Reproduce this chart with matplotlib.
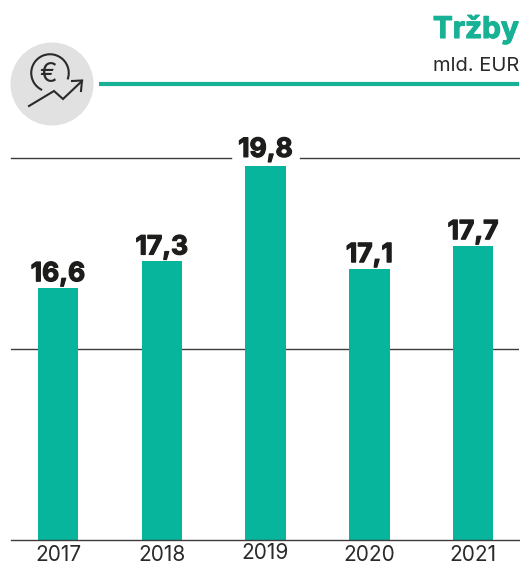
import matplotlib
matplotlib.use('Agg')
import matplotlib.pyplot as plt
import matplotlib.patheffects as pe
from matplotlib.patches import Arc, Circle

years = ['2017', '2018', '2019', '2020', '2021']
values = [16.6, 17.3, 19.8, 17.1, 17.7]
labels = ['16,6', '17,3', '19,8', '17,1', '17,7']
# baseline of the axis is 10, not 0
grid_values = [15]
top_value = 20

green = '#06B59C'
line_green = '#17B195'
dark = '#2B2A29'
rule = '#3c3c3c'
W, H = 520, 565

plt.rcParams['font.family'] = ['Inter', 'DejaVu Sans']

fig = plt.figure(figsize=(W / 100, H / 100), dpi=100)
ax = fig.add_axes([11 / W, (H - 540) / H, 508 / W, 382 / H])

x = list(range(len(years)))
ax.bar(x, values, width=0.39, color=green, zorder=3)
ax.set_xlim(-0.453, 4.443)
ax.set_ylim(10, top_value)

for v in grid_values:
    ax.axhline(v, color=rule, lw=1, zorder=1)
# top line has a gap for the 2019 label
ax.axhline(top_value, xmax=220 / 508, color=rule, lw=1, clip_on=False)
ax.axhline(top_value, xmin=289 / 508, color=rule, lw=1, clip_on=False)

for xi, v, lab in zip(x, values, labels):
    off = 2 if v > 19 else 0.5
    t = ax.annotate(lab, (xi, v), xytext=(0, off), textcoords='offset points', ha='center',
                    va='bottom', fontsize=19, fontweight='bold', color='#1d1d1b', clip_on=False)
    t.set_path_effects([pe.withStroke(linewidth=0.9, foreground='#1d1d1b')])

for s in ['top', 'left', 'right']:
    ax.spines[s].set_visible(False)
ax.spines['bottom'].set_color(rule)
ax.spines['bottom'].set_linewidth(1)
ax.spines['bottom'].set_zorder(4)
ax.set_yticks([])
ax.set_xticks(x)
ax.set_xticklabels(years, fontsize=15, color=dark)
ax.tick_params(axis='x', length=0, pad=3.5)
ax.xaxis.get_major_ticks()[2].set_pad(2.5)

# overlay in pixel coordinates for the header and the icon
ov = fig.add_axes([0, 0, 1, 1], zorder=5)
ov.set_xlim(0, W)
ov.set_ylim(H, 0)
ov.axis('off')

title = ov.text(519, 38, 'Tržby', ha='right', va='baseline', fontsize=21.5, fontweight='bold', color=line_green)
title.set_path_effects([pe.withStroke(linewidth=0.8, foreground=line_green)])
ov.text(519, 71, 'mld. EUR', ha='right', va='baseline', fontsize=14.5, color=dark)
ov.plot([99, 519], [84, 84], color=line_green, lw=3, solid_capstyle='butt')

ov.add_patch(Circle((52, 84), 41.5, color='#E1E1E1', lw=0))
ov.add_patch(Arc((50, 73), 37.5, 37.5, theta1=115, theta2=380, color=dark, lw=1.5))
ov.text(48.5, 74.5, '€', ha='center', va='center', fontsize=19, color=dark)
ov.plot([29, 54, 63, 82], [106, 91, 99, 81], color=dark, lw=1.5, solid_joinstyle='miter')
ov.plot([72, 82, 81], [81, 80.5, 91], color=dark, lw=1.5, solid_joinstyle='miter')

fig.savefig('out.png', dpi=100)
